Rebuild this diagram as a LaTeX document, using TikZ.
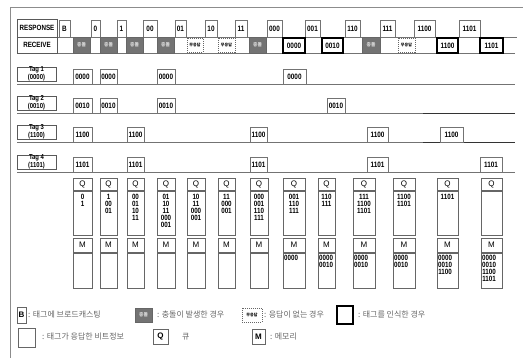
\documentclass[tikz,border=0pt]{standalone}
\usepackage{fontspec}
\setmainfont{Liberation Sans}
\newfontfamily\dig{Liberation Sans}[FakeStretch=0.82]
\newfontfamily\kr{Noto Sans CJK KR}
\newcommand\bx[7]{\node[#2, minimum width={(#4)-(#3)}, minimum height={(#6)-(#5)}] (#1) at ({((#3)+(#4))/2},{((#5)+(#6))/2}) {#7};}
\newcommand\qmcol[5]{%
 \bx{q#1}{qm}{#2}{#3}{178}{190}{Q}
 \bx{qb#1}{qm}{#2}{#3}{191}{235}{}
 \node[cont, anchor=north] (qt#1) at ({((#2)+(#3))/2},194) {#4};
 \bx{m#1}{qm}{#2}{#3}{238}{252}{M}
 \bx{mb#1}{qm}{#2}{#3}{253}{288}{}
 \node[cont, anchor=north west] (mt#1) at ({(#2)+1},255) {#5};}
\begin{document}
\begin{tikzpicture}[x=1pt,y=-1pt,
  frame/.style={draw=black!45, line width=0.8pt},
  tline/.style={draw=black!55, line width=0.8pt},
  lbl/.style={draw=black!65, line width=0.6pt, inner sep=0pt, align=center, font=\dig\bfseries\fontsize{7.6}{7.6}\selectfont},
  taglbl/.style={lbl, font=\dig\bfseries\fontsize{7.2}{6.6}\selectfont},
  resp/.style={draw=black!55, line width=0.6pt, inner sep=0pt, font=\dig\bfseries\fontsize{7.8}{7.8}\selectfont},
  coll/.style={draw=black!60, fill=black!55, line width=0.5pt, inner sep=0pt, text=black!15, font=\kr\bfseries\fontsize{4.8}{4.8}\selectfont},
  nores/.style={draw=black!60, dash pattern=on 1pt off 1pt, line width=0.5pt, inner sep=0pt, font=\kr\bfseries\fontsize{4}{4}\selectfont},
  recog/.style={draw=black, line width=1.3pt, inner sep=0pt, font=\dig\bfseries\fontsize{7.8}{7.8}\selectfont},
  tbox/.style={draw=black!55, line width=0.6pt, inner sep=0pt, font=\dig\bfseries\fontsize{7.8}{7.8}\selectfont},
  qm/.style={draw=black!60, line width=0.7pt, inner sep=0pt, font=\fontsize{8}{8}\selectfont},
  cont/.style={inner sep=0pt, align=center, font=\dig\bfseries\fontsize{7.6}{6.9}\selectfont},
  leg/.style={inner sep=0pt, anchor=west, text=black!60, font=\kr\fontsize{8}{8}\selectfont},
  legbox/.style={draw=black!60, line width=0.7pt, inner sep=0pt, font=\bfseries\fontsize{8}{8}\selectfont}
]
\useasboundingbox (0,0) rectangle (523,358);
\draw[frame] (10,358) -- (10,7) -- (523,7);
% header table
\draw[tline] (57,37) -- (517,37);
\draw[tline] (17,53) -- (515,53);
\bx{resplbl}{lbl}{17}{57}{19}{37}{RESPONSE}
\bx{recvlbl}{lbl}{17}{57}{37}{53}{RECEIVE}
% responses
\bx{r1}{resp}{59}{70}{20}{37}{B}
\bx{r2}{resp}{91}{100}{20}{37}{0}
\bx{r3}{resp}{117}{126}{20}{37}{1}
\bx{r4}{resp}{143}{157}{20}{37}{00}
\bx{r5}{resp}{175}{186}{20}{37}{01}
\bx{r6}{resp}{205}{217}{20}{37}{10}
\bx{r7}{resp}{235}{247}{20}{37}{11}
\bx{r8}{resp}{267}{282}{20}{37}{000}
\bx{r9}{resp}{305}{320}{20}{37}{001}
\bx{r10}{resp}{345}{360}{20}{37}{110}
\bx{r11}{resp}{380}{395}{20}{37}{111}
\bx{r12}{resp}{414}{435}{20}{37}{1100}
\bx{r13}{resp}{459}{480}{20}{37}{1101}
% receive
\bx{c1}{coll}{73}{90}{37}{53}{충돌}
\bx{c2}{coll}{100}{117}{37}{53}{충돌}
\bx{c3}{coll}{126}{143}{37}{53}{충돌}
\bx{c4}{coll}{157}{174}{37}{53}{충돌}
\bx{c5}{nores}{187}{203}{38}{52}{무응답}
\bx{c6}{nores}{218}{235}{38}{52}{무응답}
\bx{c7}{coll}{249}{266}{37}{53}{충돌}
\bx{c8}{recog}{283}{305}{38}{53}{0000}
\bx{c9}{recog}{322}{343}{38}{53}{0010}
\bx{c10}{coll}{362}{380}{37}{53}{충돌}
\bx{c11}{nores}{398}{415}{38}{52}{무응답}
\bx{c12}{recog}{437}{458}{38}{53}{1100}
\bx{c13}{recog}{480}{503}{38}{53}{1101}
% tag rows
\draw[tline] (17,84) -- (515,84);
\draw[tline] (17,113) -- (423,113);
\draw[tline, draw=black!80] (423,113) -- (515,113);
\draw[tline] (17,142) -- (423,142);
\draw[tline, draw=black!80] (423,142) -- (515,142);
\draw[tline] (17,172) -- (515,172);
\bx{tag1}{taglbl}{17}{56}{67}{81}{Tag 1\\(0000)}
\bx{tag2}{taglbl}{17}{56}{96}{110}{Tag 2\\(0010)}
\bx{tag3}{taglbl}{17}{56}{125}{139}{Tag 3\\(1100)}
\bx{tag4}{taglbl}{17}{56}{155}{169}{Tag 4\\(1101)}
\bx{a1}{tbox}{73}{92}{69}{84}{0000}
\bx{a2}{tbox}{100}{117}{69}{84}{0000}
\bx{a3}{tbox}{157}{175}{69}{84}{0000}
\bx{a4}{tbox}{283}{306}{69}{84}{0000}
\bx{b1}{tbox}{73}{92}{98}{113}{0010}
\bx{b2}{tbox}{100}{117}{98}{113}{0010}
\bx{b3}{tbox}{157}{175}{98}{113}{0010}
\bx{b4}{tbox}{327}{345}{98}{113}{0010}
\bx{d1}{tbox}{73}{92}{127}{142}{1100}
\bx{d2}{tbox}{127}{144}{127}{142}{1100}
\bx{d3}{tbox}{250}{267}{127}{142}{1100}
\bx{d4}{tbox}{367}{388}{127}{142}{1100}
\bx{d5}{tbox}{440}{463}{127}{142}{1100}
\bx{e1}{tbox}{73}{92}{157}{172}{1101}
\bx{e2}{tbox}{127}{144}{157}{172}{1101}
\bx{e3}{tbox}{250}{267}{157}{172}{1101}
\bx{e4}{tbox}{367}{388}{157}{172}{1101}
\bx{e5}{tbox}{480}{502}{157}{172}{1101}
% Q / M columns
\qmcol{1}{73}{92}{0\\1}{}
\qmcol{2}{100}{117}{1\\00\\01}{}
\qmcol{3}{127}{144}{00\\01\\10\\11}{}
\qmcol{4}{157}{175}{01\\10\\11\\000\\001}{}
\qmcol{5}{187}{205}{10\\11\\000\\001}{}
\qmcol{6}{218}{235}{11\\000\\001}{}
\qmcol{7}{250}{268}{000\\001\\110\\111}{}
\qmcol{8}{283}{305}{001\\110\\111}{0000}
\qmcol{9}{318}{335}{110\\111}{0000\\0010}
\qmcol{10}{353}{375}{111\\1100\\1101}{0000\\0010}
\qmcol{11}{393}{415}{1100\\1101}{0000\\0010}
\qmcol{12}{437}{458}{1101}{0000\\0010\\1100}
\qmcol{13}{481}{502}{}{0000\\0010\\1100\\1101}
% legend
\bx{lb1}{legbox}{17}{26}{307}{323}{B}
\node[leg] (lt1) at (28,315) {: 태그에 브로드캐스팅};
\bx{lb2}{coll}{135}{152}{308}{322}{충돌}
\node[leg] (lt2) at (157,315) {: 충돌이 발생한 경우};
\bx{lb3}{nores}{242}{262}{308}{322}{무응답}
\node[leg] (lt3) at (264,315) {: 응답이 없는 경우};
\bx{lb4}{recog}{337}{353}{306}{324}{}
\node[leg] (lt4) at (358,315) {: 태그를 인식한 경우};
\bx{lb5}{legbox}{18}{35}{328}{347}{}
\node[leg] (lt5) at (42,337) {: 태그가 응답한 비트정보};
\bx{lb6}{legbox}{153}{168}{329}{344}{Q}
\node[leg] (lt6) at (182,337) {큐};
\bx{lb7}{legbox}{252}{265}{329}{344}{M}
\node[leg] (lt7) at (270,337) {: 메모리};
\end{tikzpicture}
\end{document}
